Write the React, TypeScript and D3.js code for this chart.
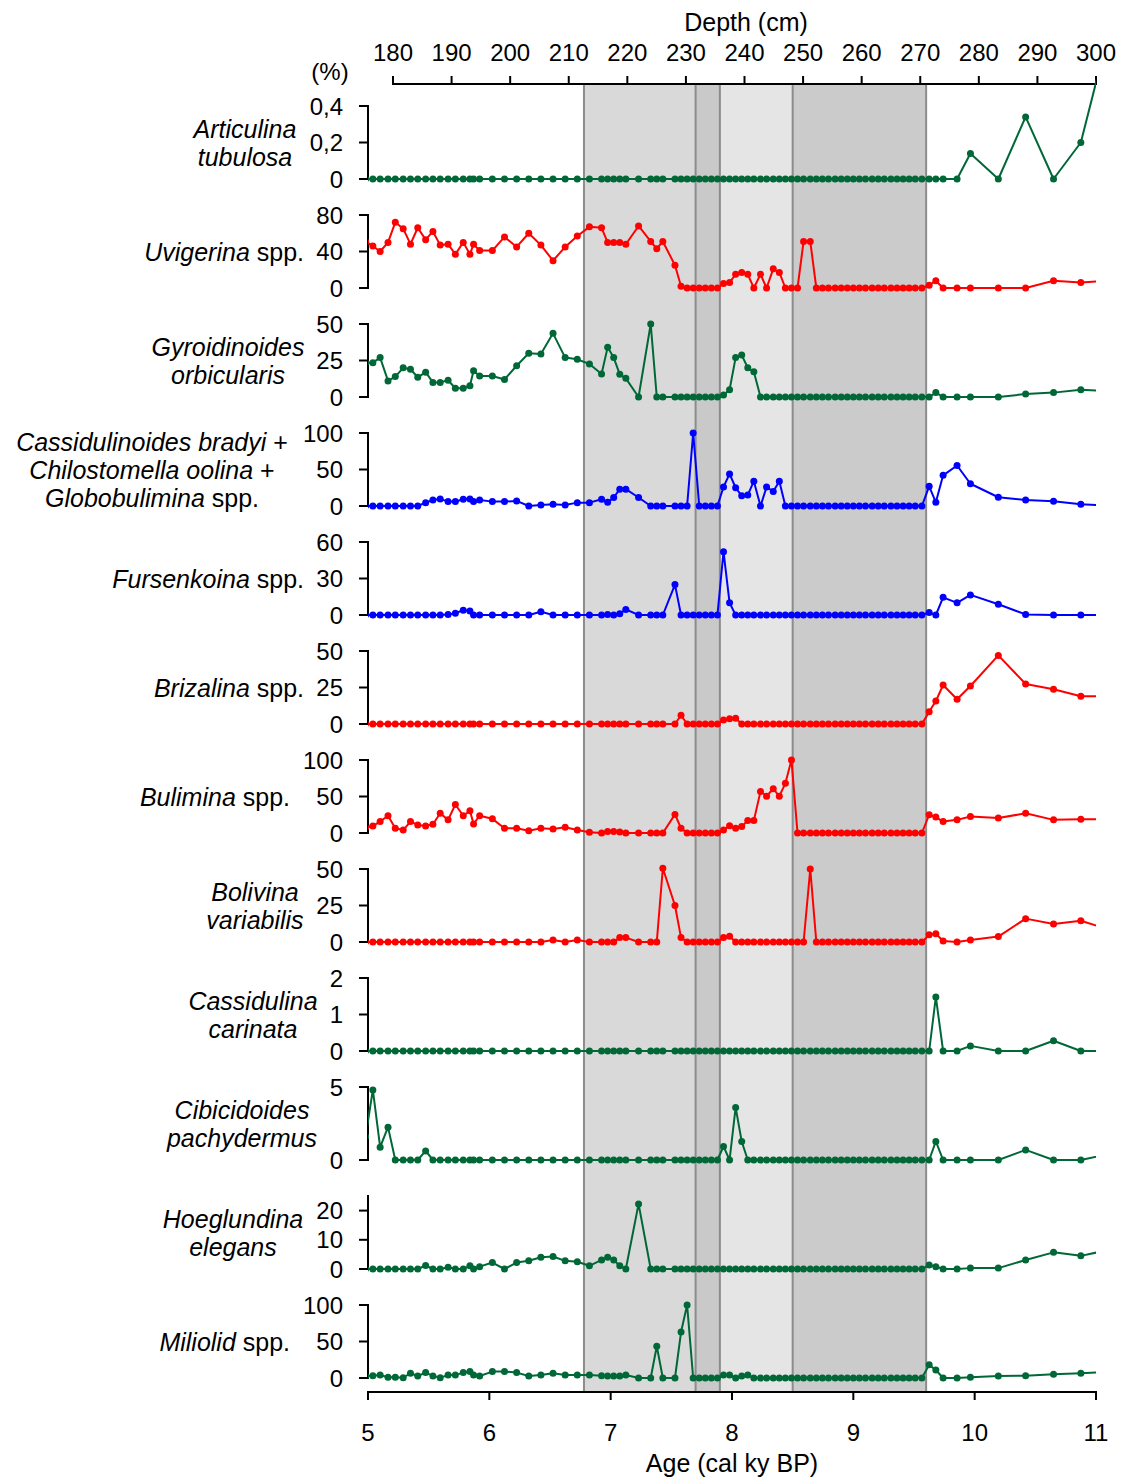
import React from "react";
import * as d3 from "d3";

// ---- DATA ----
const ages = [
  4.98, 5.04, 5.10, 5.165, 5.225, 5.29, 5.35, 5.41, 5.475, 5.535,
  5.595, 5.66, 5.72, 5.785, 5.84, 5.87, 5.92, 6.025, 6.125, 6.225,
  6.325, 6.425, 6.525, 6.625, 6.725, 6.825, 6.925, 6.975, 7.025, 7.075,
  7.125, 7.23, 7.33, 7.38, 7.43, 7.53, 7.58, 7.63, 7.68, 7.73,
  7.78, 7.83, 7.88, 7.93, 7.98, 8.03, 8.08, 8.13, 8.18, 8.235,
  8.285, 8.34, 8.39, 8.44, 8.49, 8.54, 8.59, 8.645, 8.695, 8.745,
  8.795, 8.85, 8.90, 8.95, 9.00, 9.05, 9.10, 9.155, 9.205, 9.255,
  9.31, 9.36, 9.41, 9.46, 9.51, 9.565, 9.625, 9.68, 9.74, 9.855,
  9.965, 10.195, 10.42, 10.65, 10.875, 11.1,
];

const articulina = [
  0, 0, 0, 0, 0, 0, 0, 0, 0, 0,
  0, 0, 0, 0, 0, 0, 0, 0, 0, 0,
  0, 0, 0, 0, 0, 0, 0, 0, 0, 0,
  0, 0, 0, 0, 0, 0, 0, 0, 0, 0,
  0, 0, 0, 0, 0, 0, 0, 0, 0, 0,
  0, 0, 0, 0, 0, 0, 0, 0, 0, 0,
  0, 0, 0, 0, 0, 0, 0, 0, 0, 0,
  0, 0, 0, 0, 0, 0, 0, 0, 0, 0,
  0.14, 0, 0.34, 0, 0.2, 0.79,
];
const uvigerina = [
  51, 46, 40, 50, 72, 65, 48, 66, 53, 62,
  47, 48, 37, 50, 37, 48, 41, 41, 56, 45,
  60, 47, 30, 45, 57, 67, 66, 50, 50, 50,
  48, 68, 51, 43, 51, 25, 2, 0, 0, 0,
  0, 0, 0, 5, 6, 15, 17, 15, 0, 15,
  0, 21, 17, 0, 0, 0, 51, 51, 0, 0,
  0, 0, 0, 0, 0, 0, 0, 0, 0, 0,
  0, 0, 0, 0, 0, 0, 3, 8, 0, 0,
  0, 0, 0, 8, 6, 7.8,
];
const gyroidinoides = [
  23.5, 23.5, 27, 11, 14, 20, 19, 13.5, 17, 10,
  10, 11.5, 6, 6, 7.7, 18, 14.4, 14.4, 12, 21.4,
  30, 29.5, 43.6, 27, 25.8, 22.6, 15.8, 34, 27, 15.5,
  12.8, 0, 50, 0, 0, 0, 0, 0, 0, 0,
  0, 0, 0, 1.4, 5, 27, 28.7, 20, 17.3, 0,
  0, 0, 0, 0, 0, 0, 0, 0, 0, 0,
  0, 0, 0, 0, 0, 0, 0, 0, 0, 0,
  0, 0, 0, 0, 0, 0, 0, 3, 0, 0,
  0, 0, 2, 3, 5, 4.1,
];
const cassidulinoides = [
  0, 0, 0, 0, 0, 0, 0, 0, 4.6, 8.3,
  9.7, 6, 6, 9.3, 9.7, 6, 8.3, 6, 6, 7,
  0, 1.4, 2.3, 1.4, 4.6, 4.6, 9.3, 5, 11.6, 23,
  23, 11.6, 0, 0, 0, 0, 0, 0, 100, 0,
  0, 0, 0, 26, 44, 25, 14, 15, 34, 0,
  26, 20, 34, 0, 0, 0, 0, 0, 0, 0,
  0, 0, 0, 0, 0, 0, 0, 0, 0, 0,
  0, 0, 0, 0, 0, 0, 27, 5, 42, 55.5,
  30.5, 12, 8.3, 6.5, 2.3, 0.9,
];
const fursenkoina = [
  0, 0, 0, 0, 0, 0, 0, 0, 0, 0,
  0, 0.5, 1.4, 4, 3.3, 0, 0, 0, 0, 0,
  0, 2.7, 0, 0, 0, 0, 0, 0.5, 0, 1,
  4.6, 0, 0, 0, 0, 25, 0, 0, 0, 0,
  0, 0, 0, 52, 10, 0, 0, 0, 0, 0,
  0, 0, 0, 0, 0, 0, 0, 0, 0, 0,
  0, 0, 0, 0, 0, 0, 0, 0, 0, 0,
  0, 0, 0, 0, 0, 0, 2, 0, 14.5, 10,
  16.5, 8.8, 0.5, 0, 0, 0,
];
const brizalina = [
  0, 0, 0, 0, 0, 0, 0, 0, 0, 0,
  0, 0, 0, 0, 0, 0, 0, 0, 0, 0,
  0, 0, 0, 0, 0, 0, 0, 0, 0, 0,
  0, 0, 0, 0, 0, 0, 6, 0, 0, 0,
  0, 0, 0, 2.7, 3.6, 4, 0, 0, 0, 0,
  0, 0, 0, 0, 0, 0, 0, 0, 0, 0,
  0, 0, 0, 0, 0, 0, 0, 0, 0, 0,
  0, 0, 0, 0, 0, 0, 8.4, 15.7, 26.7, 17,
  26, 47, 27.4, 23.8, 19, 19,
];
const bulimina = [
  7.2, 9.7, 15.7, 23.6, 6.5, 4, 15.7, 11, 9.7, 12,
  27, 18, 39, 23.6, 30.5, 12.5, 23.6, 19.4, 6.5, 6.5,
  3.2, 6.5, 5.6, 7.9, 4, 1, 0, 1.9, 2, 1.5,
  0, 0, 0, 0, 0, 25.5, 6.5, 0, 0, 0,
  0, 0, 0, 4, 10, 6.5, 8.8, 17, 17, 57,
  50.5, 60.6, 50.5, 68, 100, 0, 0, 0, 0, 0,
  0, 0, 0, 0, 0, 0, 0, 0, 0, 0,
  0, 0, 0, 0, 0, 0, 25, 21.8, 15.7, 18,
  22.7, 20.4, 27, 18, 19, 19,
];
const bolivina = [
  0, 0, 0, 0, 0, 0, 0, 0, 0, 0,
  0, 0, 0, 0, 0, 0, 0, 0, 0, 0,
  0, 0, 1.3, 0, 1.3, 0, 0, 0, 0, 3,
  3, 0, 0, 0, 50.5, 25, 3, 0, 0, 0,
  0, 0, 0, 3, 4, 0, 0, 0, 0, 0,
  0, 0, 0, 0, 0, 0, 0, 50, 0, 0,
  0, 0, 0, 0, 0, 0, 0, 0, 0, 0,
  0, 0, 0, 0, 0, 0, 4.9, 5.6, 0.7, 0,
  1.4, 3.7, 16, 12.3, 14.6, 8.7,
];
const cassidulina = [
  0, 0, 0, 0, 0, 0, 0, 0, 0, 0,
  0, 0, 0, 0, 0, 0, 0, 0, 0, 0,
  0, 0, 0, 0, 0, 0, 0, 0, 0, 0,
  0, 0, 0, 0, 0, 0, 0, 0, 0, 0,
  0, 0, 0, 0, 0, 0, 0, 0, 0, 0,
  0, 0, 0, 0, 0, 0, 0, 0, 0, 0,
  0, 0, 0, 0, 0, 0, 0, 0, 0, 0,
  0, 0, 0, 0, 0, 0, 0, 1.48, 0, 0,
  0.14, 0, 0, 0.28, 0, 0,
];
const cibicidoides = [
  1.6, 4.8, 0.88, 2.25, 0, 0, 0, 0, 0.62, 0,
  0, 0, 0, 0, 0, 0, 0, 0, 0, 0,
  0, 0, 0, 0, 0, 0, 0, 0, 0, 0,
  0, 0, 0, 0, 0, 0, 0, 0, 0, 0,
  0, 0, 0, 0.93, 0, 3.6, 1.27, 0, 0, 0,
  0, 0, 0, 0, 0, 0, 0, 0, 0, 0,
  0, 0, 0, 0, 0, 0, 0, 0, 0, 0,
  0, 0, 0, 0, 0, 0, 0, 1.27, 0, 0,
  0, 0, 0.69, 0, 0, 0.4,
];
const hoeglundina = [
  0, 0, 0, 0, 0, 0, 0, 0, 1.2, 0,
  0, 0.6, 0, 0, 1.1, 0, 0.8, 2.2, 0, 2.2,
  2.8, 4, 4.3, 2.8, 2.5, 1.1, 3.1, 4, 3.1, 1.1,
  0, 22.3, 0, 0, 0, 0, 0, 0, 0, 0,
  0, 0, 0, 0, 0, 0, 0, 0, 0, 0,
  0, 0, 0, 0, 0, 0, 0, 0, 0, 0,
  0, 0, 0, 0, 0, 0, 0, 0, 0, 0,
  0, 0, 0, 0, 0, 0, 1.4, 0.8, 0, 0,
  0.3, 0.3, 3.1, 5.7, 4.5, 6.5,
];
const miliolid = [
  2.6, 3.2, 4, 1, 1, 0.5, 6.5, 2.8, 7.4, 2.8,
  0.5, 4, 4, 7.4, 8.8, 4, 2.8, 8.8, 8.8, 7.4,
  2.8, 4, 6.5, 4, 4, 4, 3.2, 2.8, 2.8, 2.8,
  4, 0, 0, 43.5, 0, 0, 63, 100, 0, 0,
  0, 0, 0, 4, 4, 0, 2.8, 4, 0, 0,
  0, 0, 0, 0, 0, 0, 0, 0, 0, 0,
  0, 0, 0, 0, 0, 0, 0, 0, 0, 0,
  0, 0, 0, 0, 0, 0, 18, 11, 0, 0,
  1, 2.8, 3.2, 5, 6.5, 8.1,
];

const ageTicks = [5, 6, 7, 8, 9, 10, 11];
const depthTicks = [180, 190, 200, 210, 220, 230, 240, 250, 260, 270, 280, 290, 300];
// shaded intervals (ky)
const zoneBounds = [6.78, 7.7, 7.9, 8.5, 9.6];
const zoneFills = ["#d9d9d9", "#c9c9c9", "#e5e5e5", "#cbcbcb"];

// ---- LAYOUT ----
const W = 1125;
const H = 1479;
const X0 = 368;
const X1 = 1096;
const TOP_AXIS_Y = 84;
const BOTTOM_AXIS_Y = 1392;
const PANEL_Y0 = 179;
const PANEL_STEP = 109;
const PANEL_H = 73;

const GREEN = "#006837";
const RED = "#ff0000";
const BLUE = "#0000ff";

const FONT = "'Liberation Sans', Arial, Helvetica, sans-serif";

type Seg = { t: string; i: boolean };
type Panel = {
  values: number[];
  color: string;
  max: number;
  ticks: number[];
  lines: Seg[][];
  anchor: "middle" | "end";
  lx: number;
};

const panels: Panel[] = [
  { values: articulina, color: GREEN, max: 0.4, ticks: [0, 0.2, 0.4],
    lines: [[{ t: "Articulina", i: true }], [{ t: "tubulosa", i: true }]], anchor: "middle", lx: 245 },
  { values: uvigerina, color: RED, max: 80, ticks: [0, 40, 80],
    lines: [[{ t: "Uvigerina", i: true }, { t: " spp.", i: false }]], anchor: "end", lx: 304 },
  { values: gyroidinoides, color: GREEN, max: 50, ticks: [0, 25, 50],
    lines: [[{ t: "Gyroidinoides", i: true }], [{ t: "orbicularis", i: true }]], anchor: "middle", lx: 228 },
  { values: cassidulinoides, color: BLUE, max: 100, ticks: [0, 50, 100],
    lines: [
      [{ t: "Cassidulinoides bradyi", i: true }, { t: " +", i: false }],
      [{ t: "Chilostomella oolina", i: true }, { t: " +", i: false }],
      [{ t: "Globobulimina", i: true }, { t: " spp.", i: false }],
    ], anchor: "middle", lx: 152 },
  { values: fursenkoina, color: BLUE, max: 60, ticks: [0, 30, 60],
    lines: [[{ t: "Fursenkoina", i: true }, { t: " spp.", i: false }]], anchor: "end", lx: 304 },
  { values: brizalina, color: RED, max: 50, ticks: [0, 25, 50],
    lines: [[{ t: "Brizalina", i: true }, { t: " spp.", i: false }]], anchor: "end", lx: 304 },
  { values: bulimina, color: RED, max: 100, ticks: [0, 50, 100],
    lines: [[{ t: "Bulimina", i: true }, { t: " spp.", i: false }]], anchor: "end", lx: 290 },
  { values: bolivina, color: RED, max: 50, ticks: [0, 25, 50],
    lines: [[{ t: "Bolivina", i: true }], [{ t: "variabilis", i: true }]], anchor: "middle", lx: 255 },
  { values: cassidulina, color: GREEN, max: 2, ticks: [0, 1, 2],
    lines: [[{ t: "Cassidulina", i: true }], [{ t: "carinata", i: true }]], anchor: "middle", lx: 253 },
  { values: cibicidoides, color: GREEN, max: 5, ticks: [0, 5],
    lines: [[{ t: "Cibicidoides", i: true }], [{ t: "pachydermus", i: true }]], anchor: "middle", lx: 242 },
  { values: hoeglundina, color: GREEN, max: 25, ticks: [0, 10, 20],
    lines: [[{ t: "Hoeglundina", i: true }], [{ t: "elegans", i: true }]], anchor: "middle", lx: 233 },
  { values: miliolid, color: GREEN, max: 100, ticks: [0, 50, 100],
    lines: [[{ t: "Miliolid", i: true }, { t: " spp.", i: false }]], anchor: "end", lx: 290 },
];

const LABEL_FS = 25;
const TICK_FS = 24;

function fmt(v: number) {
  return String(v).replace(".", ",");
}

export default function App() {
  const x = d3.scaleLinear().domain([5, 11]).range([X0, X1]);
  const depth = d3.scaleLinear().domain([180, 300]).range([393, X1]);

  return (
    <svg
      width={W}
      height={H}
      viewBox={`0 0 ${W} ${H}`}
      style={{ position: "absolute", left: 0, top: 0, background: "#fff" }}
      fontFamily={FONT}
    >
      <defs>
        <clipPath id="plotclip">
          <rect x={X0} y={0} width={X1 - X0} height={H} />
        </clipPath>
      </defs>
      <rect x={0} y={0} width={W} height={H} fill="#fff" />

      {/* shaded zones */}
      {zoneFills.map((f, i) => (
        <rect
          key={"z" + i}
          x={x(zoneBounds[i])}
          y={TOP_AXIS_Y}
          width={x(zoneBounds[i + 1]) - x(zoneBounds[i])}
          height={BOTTOM_AXIS_Y - TOP_AXIS_Y}
          fill={f}
        />
      ))}
      {zoneBounds.map((b, i) => (
        <line
          key={"zb" + i}
          x1={x(b)}
          x2={x(b)}
          y1={TOP_AXIS_Y}
          y2={BOTTOM_AXIS_Y}
          stroke="#8c8c8c"
          strokeWidth={2}
        />
      ))}

      {/* top depth axis */}
      <line x1={depth(180) - 1} x2={X1 + 1} y1={TOP_AXIS_Y} y2={TOP_AXIS_Y} stroke="#000" strokeWidth={2} />
      {depthTicks.map((d) => (
        <g key={"dt" + d}>
          <line x1={depth(d)} x2={depth(d)} y1={TOP_AXIS_Y} y2={TOP_AXIS_Y - 8} stroke="#000" strokeWidth={2} />
          <text x={depth(d)} y={60.5} textAnchor="middle" fontSize={TICK_FS}>
            {d}
          </text>
        </g>
      ))}
      <text x={746} y={31} textAnchor="middle" fontSize={LABEL_FS}>
        Depth (cm)
      </text>
      <text x={330} y={80} textAnchor="middle" fontSize={TICK_FS}>
        (%)
      </text>

      {/* bottom age axis */}
      <line x1={X0 - 1} x2={X1 + 1} y1={BOTTOM_AXIS_Y} y2={BOTTOM_AXIS_Y} stroke="#000" strokeWidth={2} />
      {ageTicks.map((a) => (
        <g key={"at" + a}>
          <line x1={x(a)} x2={x(a)} y1={BOTTOM_AXIS_Y} y2={BOTTOM_AXIS_Y + 8} stroke="#000" strokeWidth={2} />
          <text x={x(a)} y={1440.5} textAnchor="middle" fontSize={TICK_FS}>
            {a}
          </text>
        </g>
      ))}
      <text x={732} y={1472} textAnchor="middle" fontSize={LABEL_FS}>
        Age (cal ky BP)
      </text>

      {/* panels */}
      {panels.map((p, i) => {
        const y0 = PANEL_Y0 + i * PANEL_STEP;
        const y = d3.scaleLinear().domain([0, p.max]).range([y0, y0 - PANEL_H]);
        const line = d3
          .line<number>()
          .x((_, k) => x(ages[k]))
          .y((v) => y(v));
        const nl = p.lines.length;
        const offsets = nl === 1 ? [-36.5] : nl === 2 ? [-50, -22] : [-64, -36, -8];
        return (
          <g key={"p" + i}>
            {/* y axis */}
            <line x1={X0} x2={X0} y1={y0 + 1} y2={y0 - PANEL_H - 1} stroke="#000" strokeWidth={2} />
            {p.ticks.map((t) => (
              <g key={"yt" + t}>
                <line x1={X0 - 9} x2={X0} y1={y(t)} y2={y(t)} stroke="#000" strokeWidth={2} />
                <text x={X0 - 25} y={y(t) + 8.5} textAnchor="end" fontSize={TICK_FS}>
                  {fmt(t)}
                </text>
              </g>
            ))}
            {/* label */}
            {p.lines.map((segs, li) => (
              <text
                key={"l" + li}
                x={p.lx}
                y={y0 + offsets[li] + 9}
                textAnchor={p.anchor}
                fontSize={LABEL_FS}
              >
                {segs.map((s, si) => (
                  <tspan key={si} fontStyle={s.i ? "italic" : "normal"}>
                    {s.t}
                  </tspan>
                ))}
              </text>
            ))}
            {/* data */}
            <g clipPath="url(#plotclip)">
              <path d={line(p.values) || ""} fill="none" stroke={p.color} strokeWidth={2} strokeLinejoin="round" />
              {p.values.map((v, k) => (
                <circle key={k} cx={x(ages[k])} cy={y(v)} r={3.5} fill={p.color} />
              ))}
            </g>
          </g>
        );
      })}
    </svg>
  );
}
